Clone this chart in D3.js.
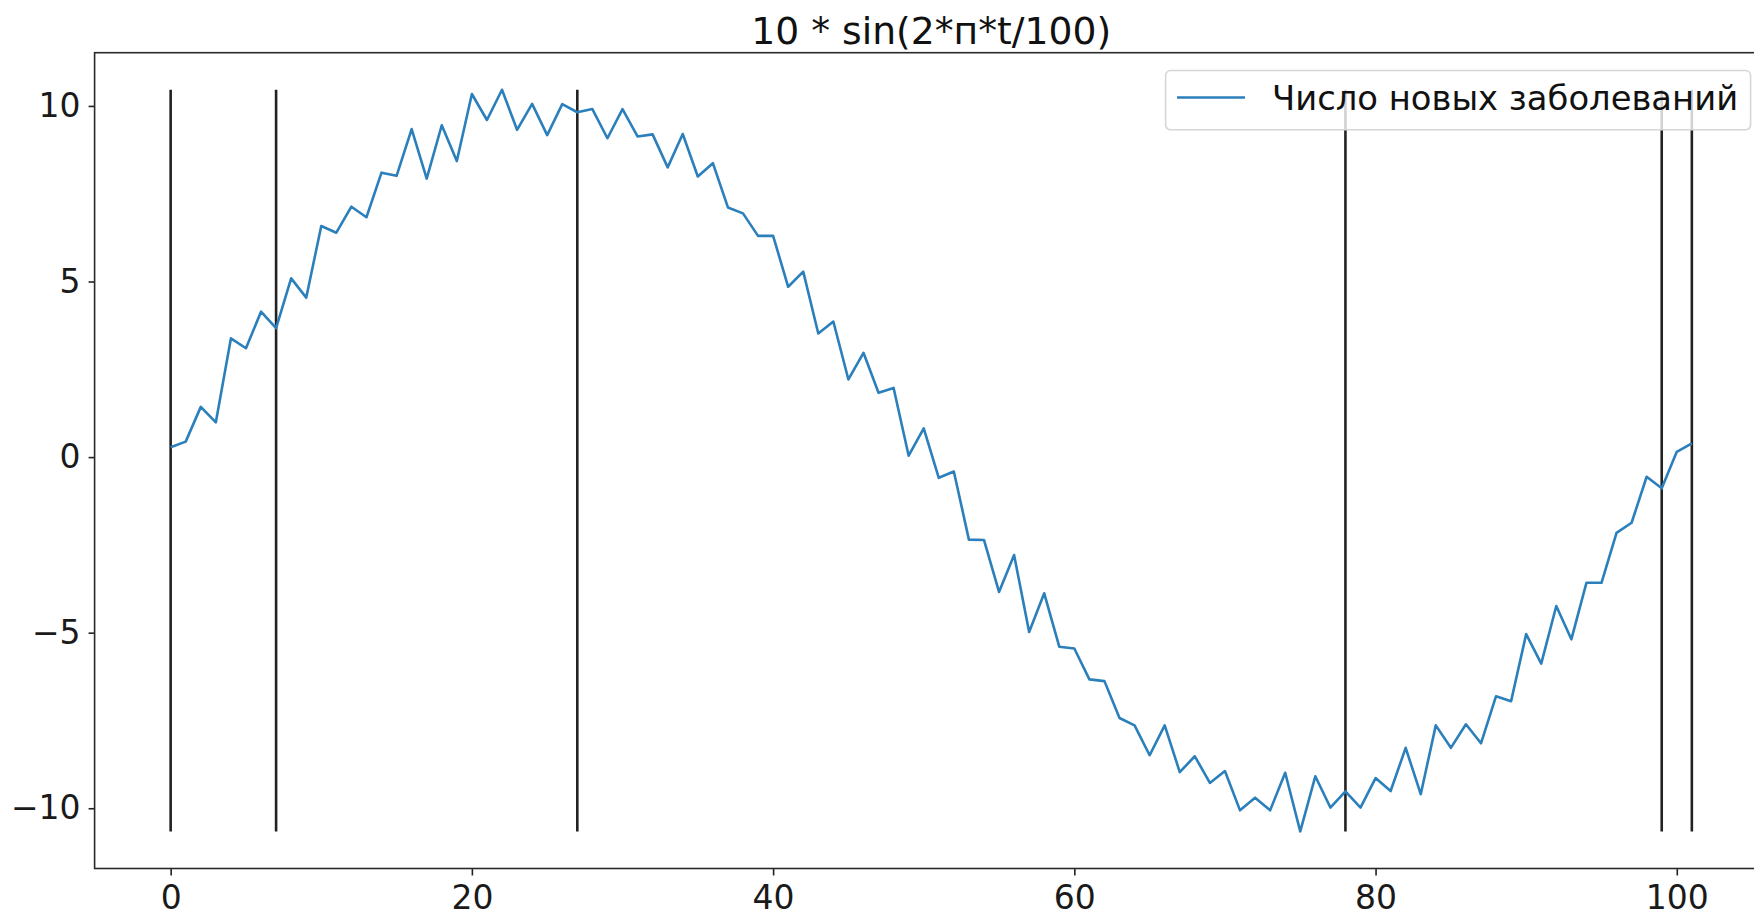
<!DOCTYPE html>
<html>
<head>
<meta charset="utf-8">
<script src="https://cdn.jsdelivr.net/npm/d3@7"></script>
<style>
  html, body { margin: 0; padding: 0; background: #fff; }
  svg { display: block; font-family: "DejaVu Sans", sans-serif; }
</style>
</head>
<body>
<div id="chart"></div>
<script>
// Series: new cases per step t = 0..101
const cases = [
  0.28, 0.44, 1.43, 0.99, 3.38, 3.10, 4.14, 3.67, 5.09, 4.54,
  6.58, 6.39, 7.13, 6.83, 8.10, 8.01, 9.34, 7.93, 9.45, 8.43,
  10.34, 9.60, 10.46, 9.32, 10.06, 9.17, 10.05, 9.82, 9.91, 9.08,
  9.91, 9.13, 9.19, 8.25, 9.20, 7.99, 8.37, 7.11, 6.94, 6.30,
  6.30, 4.85, 5.28, 3.52, 3.86, 2.21, 2.97, 1.83, 1.97, 0.04,
  0.82, -0.59, -0.41, -2.35, -2.36, -3.84, -2.79, -4.98, -3.88, -5.40,
  -5.45, -6.33, -6.38, -7.43, -7.64, -8.49, -7.64, -8.97, -8.52, -9.28,
  -8.94, -10.06, -9.70, -10.06, -8.99, -10.66, -9.09, -9.98, -9.52, -9.98,
  -9.14, -9.51, -8.28, -9.60, -7.64, -8.28, -7.61, -8.15, -6.81, -6.95,
  -5.04, -5.88, -4.24, -5.19, -3.58, -3.58, -2.16, -1.87, -0.56, -0.89,
  0.15, 0.39
];
const steps = cases.map((d, i) => i);
const markers = [0, 7, 27, 78, 99, 101];
const xTicks = [0, 20, 40, 60, 80, 100];
const yTicks = [-10, -5, 0, 5, 10];
const title = "10 * sin(2*п*t/100)";
const seriesName = "Число новых заболеваний";

const width = 1754, height = 916;
const box = { left: 94.6, right: 1767.9, top: 52.7, bottom: 868.5 };

const svg = d3.select("#chart").append("svg")
  .attr("width", width)
  .attr("height", height);

// matplotlib-like 5% margins
const xExt = d3.extent(steps), yExt = d3.extent(cases);
const xPad = (xExt[1] - xExt[0]) * 0.05, yPad = (yExt[1] - yExt[0]) * 0.05;

const x = d3.scaleLinear()
  .domain([xExt[0] - xPad, xExt[1] + xPad])
  .range([box.left, box.right]);
const y = d3.scaleLinear()
  .domain([yExt[0] - yPad, yExt[1] + yPad])
  .range([box.bottom, box.top]);

// vertical markers from min to max of the series
svg.append("g")
  .selectAll("line")
  .data(markers)
  .enter().append("line")
    .attr("x1", d => x(d)).attr("x2", d => x(d))
    .attr("y1", y(yExt[0])).attr("y2", y(yExt[1]))
    .attr("stroke", "#222")
    .attr("stroke-width", 2.6);

// the series
const line = d3.line()
  .x((d, i) => x(steps[i]))
  .y(d => y(d));

svg.append("path")
  .datum(cases)
  .attr("d", line)
  .attr("fill", "none")
  .attr("stroke", "#2b7fbb")
  .attr("stroke-width", 2.6)
  .attr("stroke-linejoin", "round");

// axes
const xAxis = svg.append("g")
  .attr("transform", "translate(0," + box.bottom + ")")
  .call(d3.axisBottom(x).tickValues(xTicks).tickSize(7).tickPadding(10));
const yAxis = svg.append("g")
  .attr("transform", "translate(" + box.left + ",0)")
  .call(d3.axisLeft(y).tickValues(yTicks).tickSize(6).tickPadding(8));

[xAxis, yAxis].forEach(ax => {
  ax.select(".domain").remove();
  ax.selectAll(".tick line").attr("stroke", "#222").attr("stroke-width", 1.6);
  ax.selectAll(".tick text")
    .attr("fill", "#1a1a1a")
    .style("font-family", "DejaVu Sans")
    .style("font-size", "33px");
});

// spines (right one falls just outside the picture)
svg.append("rect")
  .attr("x", box.left).attr("y", box.top)
  .attr("width", box.right - box.left)
  .attr("height", box.bottom - box.top)
  .attr("fill", "none")
  .attr("stroke", "#2a2a2a")
  .attr("stroke-width", 1.6);

// title
svg.append("text")
  .attr("x", (box.left + box.right) / 2)
  .attr("y", 43.5)
  .attr("text-anchor", "middle")
  .style("font-size", "37.7px")
  .attr("fill", "#111")
  .text(title);

// legend
const legend = svg.append("g");
legend.append("rect")
  .attr("x", 1165.6).attr("y", 70.5)
  .attr("width", 585).attr("height", 59.3)
  .attr("rx", 5)
  .attr("fill", "white").attr("fill-opacity", 0.8)
  .attr("stroke", "#d6d6d6").attr("stroke-width", 1.6);
legend.append("line")
  .attr("x1", 1177).attr("x2", 1245)
  .attr("y1", 97.5).attr("y2", 97.5)
  .attr("stroke", "#2b7fbb").attr("stroke-width", 2.6);
legend.append("text")
  .attr("x", 1272).attr("y", 110)
  .style("font-size", "33.8px")
  .attr("fill", "#111")
  .text(seriesName);
</script>
</body>
</html>
